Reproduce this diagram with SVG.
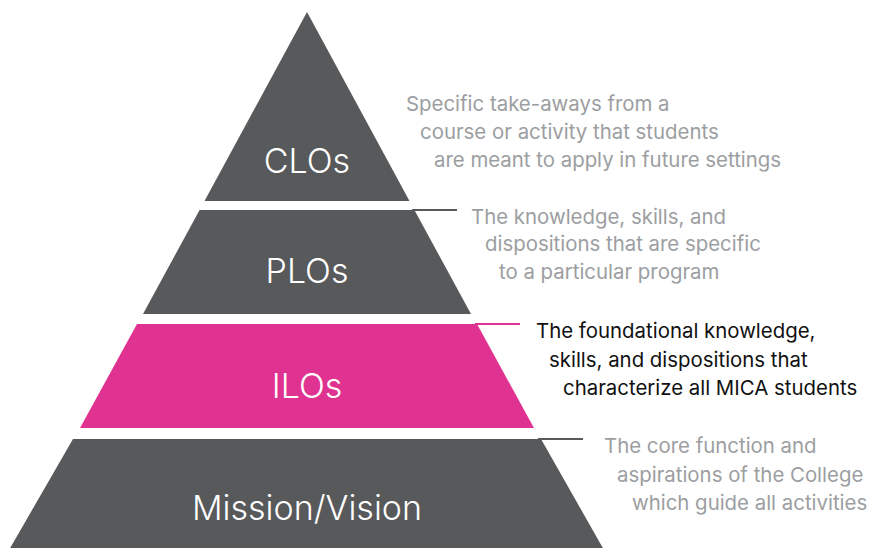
<svg xmlns="http://www.w3.org/2000/svg" width="871" height="548" viewBox="0 0 871 548">
  <style>
    .tier { fill: #58595b; }
    .tier.accent { fill: #e03391; }
    .label { font-family: Inter, "Liberation Sans", sans-serif; font-size: 34px; fill: #ffffff; text-anchor: middle; font-weight: 300; }
    .note { font-family: Inter, "Liberation Sans", sans-serif; font-size: 20.4px; fill: #9c9ea1; }
    .note.dark { fill: #111111; }
    .link { stroke: #58595b; stroke-width: 2; fill: none; }
    .link.accent { stroke: #e03391; }
  </style>
  <rect width="871" height="548" fill="#ffffff"/>

  <!-- leader lines from tier tops to the notes -->
  <g id="connectors">
    <line class="link" x1="412" y1="210" x2="457" y2="210"/>
    <line class="link accent" x1="475" y1="324" x2="520" y2="324"/>
    <line class="link" x1="538" y1="439" x2="583" y2="439"/>
  </g>

  <g id="clos">
    <polygon class="tier" points="307,12 409.5,201 204.5,201"/>
    <text class="label" x="307" y="173">CLOs</text>
    <text class="note" x="406" y="111">Specific take-aways from a</text>
    <text class="note" x="420" y="139">course or activity that students</text>
    <text class="note" x="434" y="167">are meant to apply in future settings</text>
  </g>

  <g id="plos">
    <polygon class="tier" points="199.6,210 414.4,210 471,314 143,314"/>
    <text class="label" x="307" y="283">PLOs</text>
    <text class="note" x="471" y="224">The knowledge, skills, and</text>
    <text class="note" x="485" y="251">dispositions that are specific</text>
    <text class="note" x="499" y="279">to a particular program</text>
  </g>

  <g id="ilos">
    <polygon class="tier accent" points="137,324 477,324 534,428 80,428"/>
    <text class="label" x="307" y="398">ILOs</text>
    <text class="note dark" x="536" y="338">The foundational knowledge,</text>
    <text class="note dark" x="549" y="367">skills, and dispositions that</text>
    <text class="note dark" x="563" y="395">characterize all MICA students</text>
  </g>

  <g id="mission">
    <polygon class="tier" points="73,439 541,439 604,550 9,550"/>
    <text class="label" x="307" y="520">Mission/Vision</text>
    <text class="note" x="604" y="453">The core function and</text>
    <text class="note" x="617" y="482">aspirations of the College</text>
    <text class="note" x="632" y="510">which guide all activities</text>
  </g>
</svg>
